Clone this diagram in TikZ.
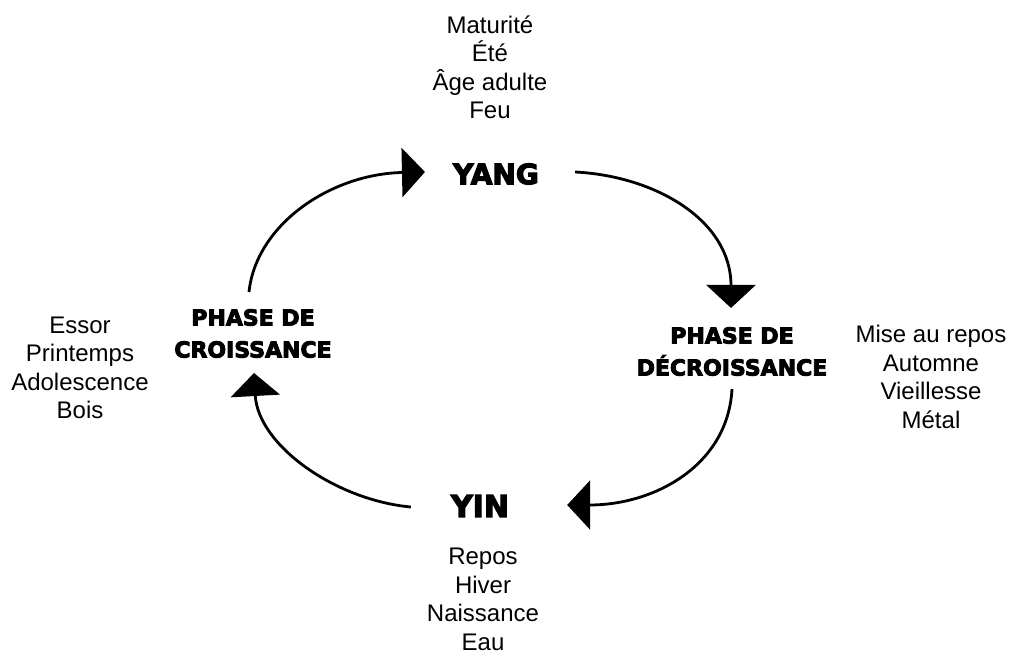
\documentclass[tikz,border=0pt]{standalone}
\usepackage{fontspec}
\setmainfont{Liberation Sans}
\newfontfamily\heavyfont[FakeBold=4]{DejaVu Sans Bold}
\usetikzlibrary{arrows.meta,calc}

\begin{document}
\begin{tikzpicture}[
  x=1pt, y=-1pt,
  word/.style={
    align=center,
    inner sep=0pt,
    font=\fontsize{24}{28.5}\selectfont
  },
  phase/.style={align=center, inner sep=0pt, font=\heavyfont\fontsize{22}{32}\selectfont},
  pole/.style={inner sep=0pt, font=\heavyfont\fontsize{28}{32}\selectfont},
  flow/.style={draw, line width=2.8pt, -{Triangle[length=23pt,width=49pt]}}
]
\useasboundingbox (0,0) rectangle (1010,655);

% --- poles and phases ---
\node[pole] (yang) at (496,174) {YANG};
\node[pole, font=\heavyfont\fontsize{30}{34}\selectfont] (yin) at (480,506) {YIN};
\node[phase] (croiss) at (253,333.5) {PHASE DE\\CROISSANCE};
\node[phase] (decroiss) at (732,351.5) {PHASE DE\\DÉCROISSANCE};

% --- seasons ---
\node[word] (summer) at (490,67.5) {Maturité\\Été\\Âge adulte\\Feu};
\node[word] (spring) at (80,368) {Essor\\Printemps\\Adolescence\\Bois};
\node[word] (autumn) at (931,377) {Mise au repos\\Automne\\Vieillesse\\Métal};
\node[word] (winter) at (483,599.5) {Repos\\Hiver\\Naissance\\Eau};

% --- cycle arrows ---
\draw[flow] ($(croiss.north)+(-4,-17)$) .. controls (256,225) and (330,174) .. ($(yang.west)+(-28,-2)$);
\draw[flow] ($(yang.east)+(36,-2)$) .. controls (655,176) and (731,220) .. ($(decroiss.north)+(-1,-19)$);
\draw[flow] ($(decroiss.south)+(0,13)$) .. controls (728,465) and (655,505) .. ($(yin.east)+(58,-1)$);
\draw[flow] ($(yin.west)+(-40,1)$) .. controls (335,500) and (258,445) .. ($(croiss.south)+(1,15)$);

\end{tikzpicture}
\end{document}
